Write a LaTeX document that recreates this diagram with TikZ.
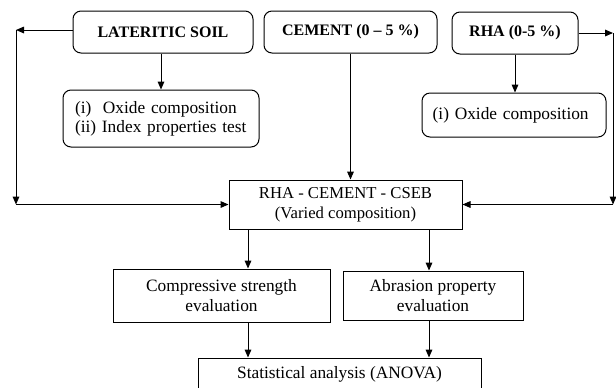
\documentclass[tikz,border=0pt]{standalone}
\usepackage{fontspec}
\setmainfont{Liberation Serif}
\usetikzlibrary{arrows.meta}
\usetikzlibrary{positioning}

\tikzset{
    box/.style={draw, line width=0.75pt, inner sep=2pt, align=center,
        font=\fontsize{13}{15}\selectfont},
    rbox/.style={box, rounded corners=6pt},
    title/.style={rbox, minimum height=31.5pt, font=\fontsize{12}{14.5}\selectfont\bfseries},
    testbox/.style={rbox, align=left, font=\fontsize{13}{14.5}\selectfont},
    arr/.style={line width=0.75pt, -{Triangle[length=6pt,width=5pt]}}
}

\begin{document}
\begin{tikzpicture}[x=0.75pt,y=-0.75pt]
\clip (0,0) rectangle (616,387);
% Top row of materials
\node[title, minimum width=135pt] (soil) at (163,32) {LATERITIC SOIL};
\node[title, minimum width=129.75pt] (cement) at (350.5,32) {CEMENT (0 -- 5 \%)};
\node[title, minimum width=94.5pt] (rha) at (515,33) {RHA (0-5 \%)};
% Tests on the raw materials
\node[testbox, inner xsep=9pt, text width=129pt, minimum height=42.75pt] (oxsoil) at (161,118.5) {(i)~~Oxide composition\\(ii)~Index properties test};
\node[testbox, inner xsep=8pt, text width=122pt, minimum height=33pt] (oxrha) at (514,115) {(i)~Oxide composition};
% Blocks
\node[box, minimum width=174.75pt, minimum height=36.75pt, font=\fontsize{12.5}{15}\selectfont] (cseb) at (345.5,204.5) {RHA - CEMENT - CSEB\\(Varied composition)};
\node[box, minimum width=162.75pt, minimum height=39.75pt] (comp) at (221.5,295.5) {Compressive strength\\evaluation};
\node[box, minimum width=135pt, minimum height=36.75pt] (abr) at (433,295.5) {Abrasion property\\evaluation};
\node[box, minimum width=212.25pt, minimum height=24pt] (stat) at (339.5,374) {Statistical analysis (ANOVA)};
%% Connectors
\coordinate (lt) at (16,30);
\coordinate (rt) at (613,33);
\coordinate (lb) at (lt |- cseb.west);
\coordinate (rb) at (rt |- cseb.east);
\draw[arr] (soil.west |- lt) -- (lt); % soil to the left
\draw[arr] (lt) -- (lb);
\draw[arr] (lb) -- (cseb.west);
\draw[arr] (rha.east) -- (rt); % rha to the right
\draw[arr] (rt) -- (rb);
\draw[arr] (rb) -- (cseb.east);
\draw[arr] (soil.south -| oxsoil.north) -- (oxsoil.north);
\draw[arr] (rha.south) -- (rha.south |- oxrha.north);
\draw[arr] (cement.south) -- (cement.south |- cseb.north);
\coordinate (c1) at (248,0);
\coordinate (c2) at (429,0);
\draw[arr] (c1 |- cseb.south) -- (c1 |- comp.north);
\draw[arr] (c2 |- cseb.south) -- (c2 |- abr.north);
\draw[arr] (c1 |- comp.south) -- (c1 |- stat.north);
\draw[arr] (c2 |- abr.south) -- (c2 |- stat.north);
\end{tikzpicture}
\end{document}
